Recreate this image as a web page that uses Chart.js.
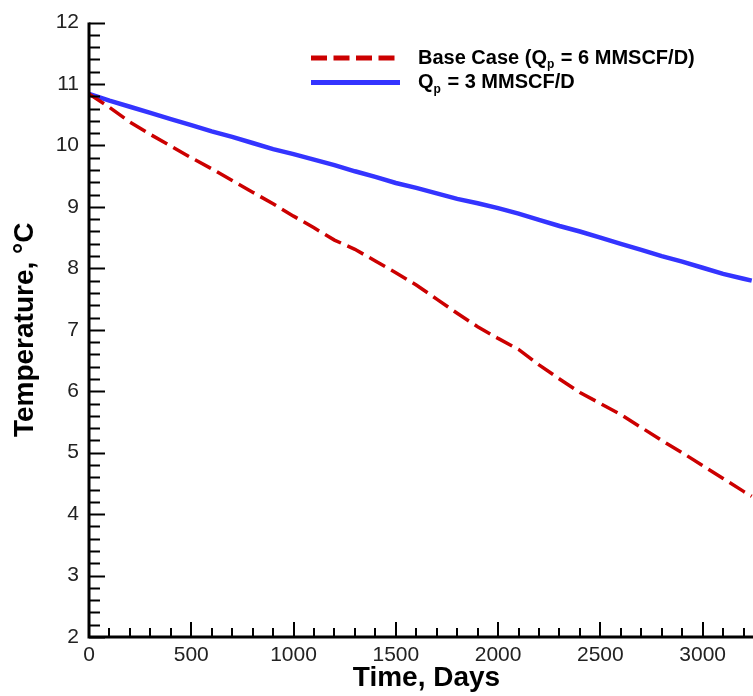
<!DOCTYPE html>
<html>
<head>
<meta charset="utf-8">
<style>
  html, body { margin: 0; padding: 0; background: #fff; overflow: hidden; }
  #wrap { width: 770px; height: 696px; }
</style>
<script src="https://cdn.jsdelivr.net/npm/chart.js@4.4.1/dist/chart.umd.min.js"></script>
</head>
<body>
<div id="wrap"><canvas id="c" width="770" height="696"></canvas></div>
<script>
// Time axis (days)
const days = [0, 100, 200, 300, 400, 500, 600, 700, 800, 900, 1000, 1100, 1200, 1300, 1400, 1500,
  1600, 1700, 1800, 1900, 2000, 2100, 2200, 2300, 2400, 2500, 2600, 2700, 2800, 2900, 3000, 3100, 3200, 3240];

// Base case, Qp = 6 MMSCF/D (°C)
const baseCaseTemp = [10.84, 10.62, 10.38, 10.18, 9.99, 9.80, 9.62, 9.43, 9.24, 9.05, 8.85, 8.66, 8.46, 8.31, 8.12, 7.93,
  7.73, 7.50, 7.27, 7.05, 6.86, 6.68, 6.43, 6.20, 5.98, 5.80, 5.62, 5.41, 5.20, 5.00, 4.79, 4.58, 4.37, 4.29];

// Qp = 3 MMSCF/D (°C)
const lowRateTemp = [10.84, 10.73, 10.63, 10.53, 10.43, 10.33, 10.23, 10.14, 10.04, 9.94, 9.86, 9.77, 9.68, 9.58, 9.49, 9.39,
  9.31, 9.22, 9.13, 9.06, 8.98, 8.89, 8.79, 8.69, 8.60, 8.50, 8.40, 8.30, 8.20, 8.11, 8.01, 7.91, 7.83, 7.80];

// Legend text: [before subscript, subscript, after subscript]
const legendParts = [
  ['Base Case (Q', 'p', ' = 6 MMSCF/D)'],
  ['Q', 'p', ' = 3 MMSCF/D']
];

const RED = '#cc0000';
const BLUE = '#3434ff';
const FONT = '"Liberation Sans", Arial, Helvetica, sans-serif';

const toPoints = (xs, ys) => xs.map((x, i) => ({ x, y: ys[i] }));

// Inward major/minor tick marks plus the two axis lines
const axisFrame = {
  id: 'axisFrame',
  afterDatasetsDraw(chart) {
    const { ctx, chartArea: a, scales: { x, y } } = chart;
    ctx.save();
    ctx.strokeStyle = '#000';
    ctx.lineCap = 'butt';
    ctx.lineWidth = 2;
    y.ticks.forEach(t => {
      const major = Math.abs(t.value - Math.round(t.value)) < 1e-6;
      const py = Math.round(y.getPixelForValue(t.value)) + 0.5;
      ctx.beginPath();
      ctx.moveTo(a.left, py);
      ctx.lineTo(a.left + (major ? 16 : 11), py);
      ctx.stroke();
    });
    x.ticks.forEach(t => {
      const major = Math.abs(t.value % 500) < 1e-6;
      const px = Math.round(x.getPixelForValue(t.value));
      ctx.beginPath();
      ctx.moveTo(px, a.bottom);
      ctx.lineTo(px, a.bottom - (major ? 15 : 9));
      ctx.stroke();
    });
    ctx.lineWidth = 3;
    ctx.beginPath();
    ctx.moveTo(a.left, y.getPixelForValue(12));
    ctx.lineTo(a.left, a.bottom);
    ctx.lineTo(a.right, a.bottom);
    ctx.stroke();
    ctx.restore();
  }
};

// Legend with subscripted "p"
const subLegend = {
  id: 'subLegend',
  afterDraw(chart) {
    const { ctx, chartArea: a } = chart;
    const x0 = a.left + 222, x1 = a.left + 309, tx = a.left + 329;
    const rows = [a.top + 35.5, a.top + 60];
    ctx.save();
    chart.data.datasets.forEach((ds, i) => {
      const yy = rows[i];
      ctx.strokeStyle = ds.borderColor;
      ctx.lineWidth = 5;
      ctx.setLineDash(ds.borderDash ? [16, 6.5] : []);
      ctx.beginPath();
      ctx.moveTo(x0, yy);
      ctx.lineTo(i === 0 ? x1 - 2 : x1 + 2, yy);
      ctx.stroke();
      ctx.setLineDash([]);
      const [pre, sub, post] = legendParts[i];
      ctx.fillStyle = '#000';
      ctx.textBaseline = 'middle';
      ctx.textAlign = 'left';
      let cx = tx;
      ctx.font = `bold 20px ${FONT}`;
      ctx.fillText(pre, cx, yy);
      cx += ctx.measureText(pre).width;
      ctx.font = `bold 12px ${FONT}`;
      ctx.fillText(sub, cx, yy + 7);
      cx += ctx.measureText(sub).width + 1;
      ctx.font = `bold 20px ${FONT}`;
      ctx.fillText(post, cx, yy);
    });
    ctx.restore();
  }
};

new Chart(document.getElementById('c'), {
  type: 'line',
  data: {
    datasets: [
      {
        label: 'Base Case (Qp = 6 MMSCF/D)',
        data: toPoints(days, baseCaseTemp),
        borderColor: RED,
        borderWidth: 3.5,
        borderDash: [18, 7],
        pointRadius: 0,
        tension: 0
      },
      {
        label: 'Qp = 3 MMSCF/D',
        data: toPoints(days, lowRateTemp),
        borderColor: BLUE,
        borderWidth: 4.5,
        pointRadius: 0,
        tension: 0
      }
    ]
  },
  options: {
    responsive: false,
    animation: false,
    devicePixelRatio: 1,
    layout: { padding: { top: 20, right: 3, left: 0, bottom: 0 } },
    plugins: { legend: { display: false }, tooltip: { enabled: false } },
    scales: {
      x: {
        type: 'linear',
        min: 0,
        max: 3300,
        border: { display: false },
        grid: { display: false, drawTicks: false },
        ticks: {
          stepSize: 100,
          autoSkip: false,
          maxRotation: 0,
          includeBounds: false,
          padding: 6,
          color: '#222',
          font: { family: FONT, size: 21 },
          callback: v => (Math.abs(v % 500) < 1e-6 ? String(v) : '')
        },
        title: {
          display: true,
          text: 'Time, Days',
          color: '#000',
          font: { family: FONT, size: 28, weight: 'bold' },
          padding: { top: 0, bottom: 0.8 }
        },
        afterFit: s => { s.height = 59; }
      },
      y: {
        type: 'linear',
        min: 2,
        max: 12,
        border: { display: false },
        grid: { display: false, drawTicks: false },
        ticks: {
          stepSize: 0.2,
          autoSkip: false,
          padding: 10,
          color: '#222',
          font: { family: FONT, size: 21 },
          callback: v => (Math.abs(v - Math.round(v)) < 1e-6 ? String(Math.round(v)) : '')
        },
        title: {
          display: true,
          text: 'Temperature, °C',
          color: '#000',
          font: { family: FONT, size: 28, weight: 'bold' },
          padding: { top: 8.5, bottom: 0 }
        },
        afterFit: s => { s.width = 89; }
      }
    }
  },
  plugins: [axisFrame, subLegend]
});
</script>
</body>
</html>
